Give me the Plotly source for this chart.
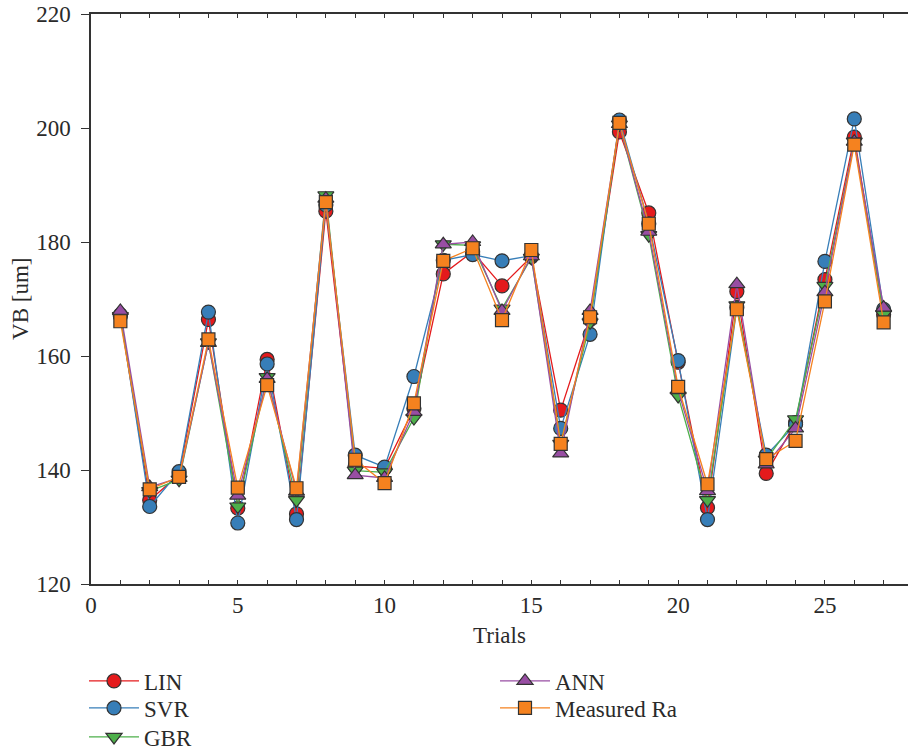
import plotly.graph_objects as go

trials = list(range(1, 28))
LIN = [167.0, 134.7, 139.2, 166.4, 133.3, 159.4, 132.3, 185.4, 140.7, 140.3, 150.8, 174.4, 178.3, 172.3,
       177.4, 150.5, 166.4, 199.3, 185.1, 158.9, 133.4, 171.3, 139.4, 148.3, 173.4, 198.4, 167.3]
SVR = [167.2, 133.6, 139.7, 167.7, 130.7, 158.6, 131.3, 186.5, 142.6, 140.5, 156.4, 176.8, 177.8, 176.7,
       177.6, 147.3, 163.8, 201.4, 183.2, 159.2, 131.3, 168.5, 142.6, 148.0, 176.6, 201.6, 168.2]
GBR = [167.0, 136.3, 138.3, 162.4, 133.6, 156.3, 134.7, 188.2, 139.9, 139.6, 149.1, 179.6, 179.4, 168.3,
       177.2, 144.6, 165.9, 200.6, 181.2, 153.0, 134.7, 168.9, 141.8, 148.9, 172.3, 197.6, 167.3]
ANN = [167.9, 137.0, 138.6, 162.3, 135.5, 156.0, 136.2, 187.6, 139.1, 138.6, 150.2, 179.6, 180.0, 167.9,
       177.5, 142.9, 167.9, 200.7, 181.8, 154.0, 136.3, 172.6, 141.0, 147.3, 171.2, 197.6, 168.5]
MEASURED = [166.1, 136.6, 138.8, 162.9, 136.9, 154.9, 136.8, 187.0, 141.8, 137.7, 151.7, 176.7, 178.9, 166.3,
            178.6, 144.6, 166.8, 200.9, 183.2, 154.6, 137.5, 168.2, 141.9, 145.1, 169.6, 197.1, 165.9]

x_ticks = [0, 5, 10, 15, 20, 25]
y_ticks = [120, 140, 160, 180, 200, 220]

FONT = "Liberation Serif"
TXT = "#2a2a2a"
FS = 23

W, H = 908, 751

series = [
    ("LIN", LIN, "#e41a1c", "circle", "legend"),
    ("SVR", SVR, "#377eb8", "circle", "legend2"),
    ("GBR", GBR, "#4daf4a", "triangle-down", "legend3"),
    ("ANN", ANN, "#984ea3", "triangle-up", "legend4"),
    ("Measured Ra", MEASURED, "#f5821f", "square", "legend5"),
]

fig = go.Figure()
for name, vals, col, sym, leg in series:
    fig.add_trace(go.Scatter(
        x=trials, y=vals, name=name, mode="lines+markers", showlegend=True,
        line=dict(color=col, width=1.3),
        marker=dict(symbol=sym, size=14 if sym != "square" else 13, color=col,
                    line=dict(color="#333333", width=1.2)),
        legend=leg,
    ))

axis_common = dict(showline=True, linecolor="#333333", linewidth=1.5, showgrid=False, zeroline=False,
                   tickfont=dict(family=FONT, size=FS, color=TXT), tickcolor="#333333")

fig.update_xaxes(**axis_common, range=[0, 27.83], tickvals=x_ticks, ticks="inside", ticklen=0,
                 mirror="allticks",
                 minor=dict(dtick=1, tick0=0, ticks="inside", ticklen=4, tickcolor="#333333"))
fig.update_yaxes(**axis_common, range=[120, 220], tickvals=y_ticks, ticks="outside", ticklen=8,
                 ticklabelstandoff=6, ticklabeloverflow="allow")


def leg(xpx, ypx):
    return dict(font=dict(family=FONT, size=FS, color=TXT), bgcolor="rgba(0,0,0,0)",
                xref="container", yref="container", xanchor="left", yanchor="middle",
                orientation="v", x=xpx / W, y=1 - ypx / H, itemwidth=50)


fig.update_layout(
    width=W, height=H,
    showlegend=True,
    margin=dict(l=91, r=0, t=14, b=167, autoexpand=False),
    plot_bgcolor="white", paper_bgcolor="white",
    font=dict(family=FONT, color=TXT),
    legend=leg(84, 681),
    legend2=leg(84, 708),
    legend3=leg(84, 737),
    legend4=leg(495, 681),
    legend5=leg(495, 708),
    annotations=[
        dict(text="VB [um]", xref="paper", yref="paper", x=-0.087, y=0.5, textangle=-90,
             xanchor="center", yanchor="middle", showarrow=False,
             font=dict(family=FONT, size=FS, color=TXT)),
        dict(text="Trials", xref="paper", yref="paper", x=0.5, y=-0.091,
             xanchor="center", yanchor="middle", showarrow=False,
             font=dict(family=FONT, size=FS, color=TXT)),
    ],
)

fig.write_html("out.html", config={"displayModeBar": False},
               post_script="document.body.style.margin='0';")
